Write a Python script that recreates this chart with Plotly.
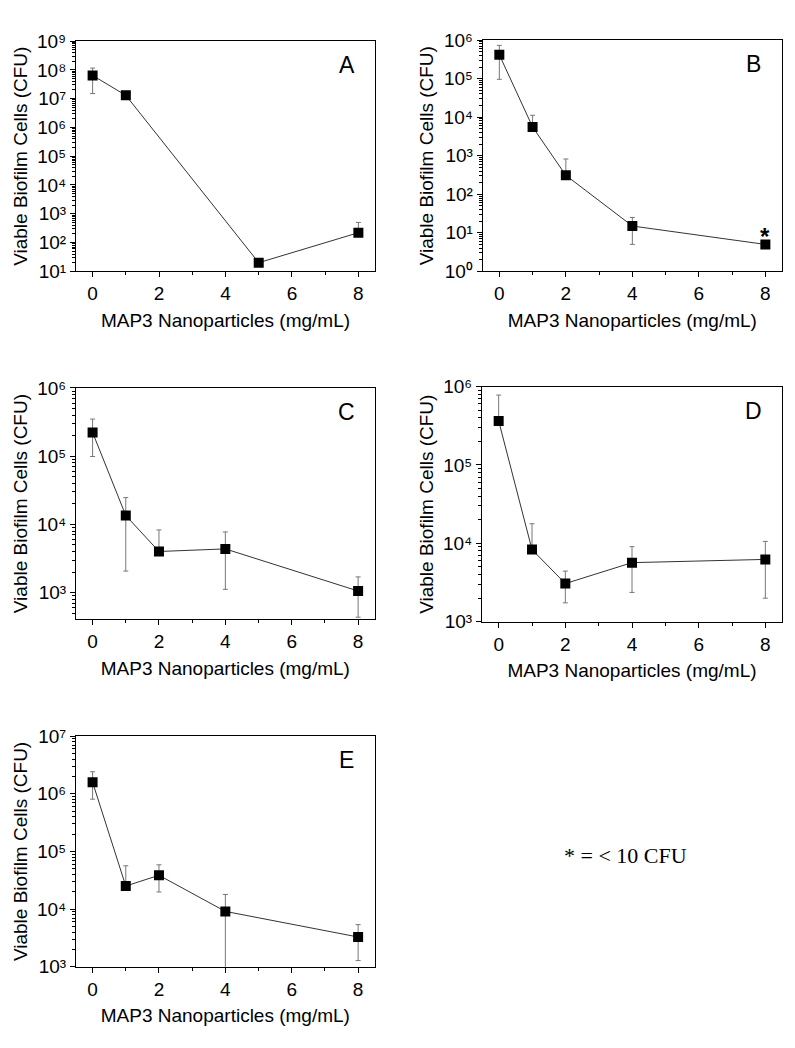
import math
import plotly.graph_objects as go

# ---------------- data ----------------
panel_labels = ["A", "B", "C", "D", "E"]

x_A = [0, 1, 5, 8]
y_A = [6.4e7, 1.3e7, 20, 220]
ep_A = [5.1e7, 0, 0, 280]
em_A = [4.9e7, 0, 0, 0]

x_B = [0, 1, 2, 4, 8]
y_B = [4.15e5, 5570, 310, 15, 5]
ep_B = [3.15e5, 5630, 512, 10, 0]
em_B = [3.19e5, 0, 0, 10, 0]

x_C = [0, 1, 2, 4, 8]
y_C = [2.23e5, 1.35e4, 4010, 4375, 1057]
ep_C = [1.27e5, 1.12e4, 4290, 3385, 643]
em_C = [1.24e5, 1.143e4, 0, 3258, 621]

x_D = [0, 1, 2, 4, 8]
y_D = [3.65e5, 8340, 3073, 5680, 6250]
ep_D = [4.15e5, 9460, 1357, 3400, 4350]
em_D = [0, 0, 1328, 3310, 4250]

x_E = [0, 1, 2, 4, 8]
y_E = [1.59e6, 2.51e4, 3.86e4, 9120, 3280]
ep_E = [8.2e5, 3.13e4, 2.0e4, 8780, 2100]
em_E = [7.83e5, 0, 1.88e4, 8780, 2000]

# log10 y ranges (exponents) of each panel
yrange_A = [1, 9]
yrange_B = [0, 6]
yrange_C = [2.61, 6]
yrange_D = [3, 6]
yrange_E = [3, 7]

x_ticks = [0, 2, 4, 6, 8]
x_title = "MAP3 Nanoparticles (mg/mL)"
y_title = "Viable Biofilm Cells (CFU)"
footnote = "* = < 10 CFU"
star_text = "<b>*</b>"
SUP = "⁰¹²³⁴⁵⁶⁷⁸⁹"

# ---------------- layout helpers ----------------
W, H = 795, 1048
FONT = "Arial, Liberation Sans, sans-serif"
FS = 19

def dx(l, r):
    return [l / W, r / W]

def dy(t, b):
    return [1 - b / H, 1 - t / H]

boxes = [
    (dx(76, 375), dy(31.7, 266.7)),
    (dx(482.7, 782), dy(30.7, 266.7)),
    (dx(76, 374.7), dy(385.7, 621.7)),
    (dx(482, 782), dy(384.3, 624.3)),
    (dx(76, 374.7), dy(741, 976.3)),
]

panels = [
    (x_A, y_A, ep_A, em_A, yrange_A),
    (x_B, y_B, ep_B, em_B, yrange_B),
    (x_C, y_C, ep_C, em_C, yrange_C),
    (x_D, y_D, ep_D, em_D, yrange_D),
    (x_E, y_E, ep_E, em_E, yrange_E),
]

fig = go.Figure()
layout = dict(
    width=W, height=H,
    margin=dict(l=0, r=0, t=0, b=0, pad=0),
    paper_bgcolor="white", plot_bgcolor="white",
    showlegend=False,
    font=dict(family=FONT, size=FS, color="black"),
)
annotations = []

for i, ((xs, ys, ep, em, yr), (xd, yd)) in enumerate(zip(panels, boxes)):
    n = "" if i == 0 else str(i + 1)
    xa, ya = "x" + n, "y" + n
    fig.add_trace(go.Scatter(
        x=xs, y=ys, xaxis=xa, yaxis=ya,
        mode="lines+markers",
        line=dict(color="#333333", width=1),
        marker=dict(symbol="square", size=10, color="black"),
        error_y=dict(type="data", symmetric=False, array=ep, arrayminus=em,
                     color="#777777", thickness=1, width=2.5),
    ))
    lo, hi = yr
    exps = list(range(math.ceil(lo), math.floor(hi) + 1))
    majors = [10.0 ** k for k in exps]
    majors_txt = ["10" + SUP[k] for k in exps]
    minors = []
    for k in range(math.floor(lo), math.ceil(hi)):
        for m in range(2, 10):
            v = m * 10.0 ** k
            if 10 ** lo <= v <= 10 ** hi:
                minors.append(v)
    layout["xaxis" + n] = dict(
        domain=xd, anchor=ya, range=[-0.5, 8.5],
        tickmode="array", tickvals=x_ticks,
        ticks="outside", ticklen=5, tickwidth=1, tickcolor="black",
        minor=dict(ticks="outside", ticklen=3, tickvals=[1, 3, 5, 7],
                   tickcolor="black", tickwidth=1, showgrid=False),
        showline=True, linecolor="black", linewidth=1, mirror=True,
        showgrid=False, zeroline=False,
        tickfont=dict(size=FS, family=FONT),
        title=dict(text=x_title, font=dict(size=FS, family=FONT), standoff=10),
    )
    layout["yaxis" + n] = dict(
        domain=yd, anchor=xa, type="log", range=[lo, hi],
        tickmode="array", tickvals=majors, ticktext=majors_txt,
        ticks="outside", ticklen=5, tickwidth=1, tickcolor="black",
        minor=dict(ticks="outside", ticklen=3, tickvals=minors,
                   tickcolor="black", tickwidth=1, showgrid=False),
        showline=True, linecolor="black", linewidth=1, mirror=True,
        showgrid=False, zeroline=False,
        tickfont=dict(size=FS, family=FONT),
        title=dict(text=y_title, font=dict(size=FS, family=FONT), standoff=4),
    )
    annotations.append(dict(
        text=panel_labels[i], xref=xa + " domain", yref=ya + " domain",
        x=0.905, y=0.897, xanchor="center", yanchor="middle",
        showarrow=False, font=dict(size=23, family=FONT, color="black"),
    ))

# asterisk over the last point of panel B
annotations.append(dict(
    text=star_text, xref="x2", yref="y2", x=x_B[-1], y=math.log10(y_B[-1]),
    xanchor="center", yanchor="middle", yshift=8, showarrow=False,
    font=dict(size=24, family=FONT, color="black"),
))

annotations.append(dict(
    text=footnote, xref="paper", yref="paper", x=625 / W, y=1 - 863 / H,
    xanchor="center", yanchor="middle", showarrow=False,
    font=dict(size=22, family="Times New Roman, Liberation Serif, serif", color="black"),
))

layout["annotations"] = annotations
fig.update_layout(**layout)

post = (
    "var st=document.createElement('style');"
    "st.innerHTML='html,body{margin:0;padding:0;overflow:hidden;}';"
    "document.head.appendChild(st);"
)
fig.write_html(
    "out.html",
    config={"displayModeBar": False},
    post_script=post,
)
